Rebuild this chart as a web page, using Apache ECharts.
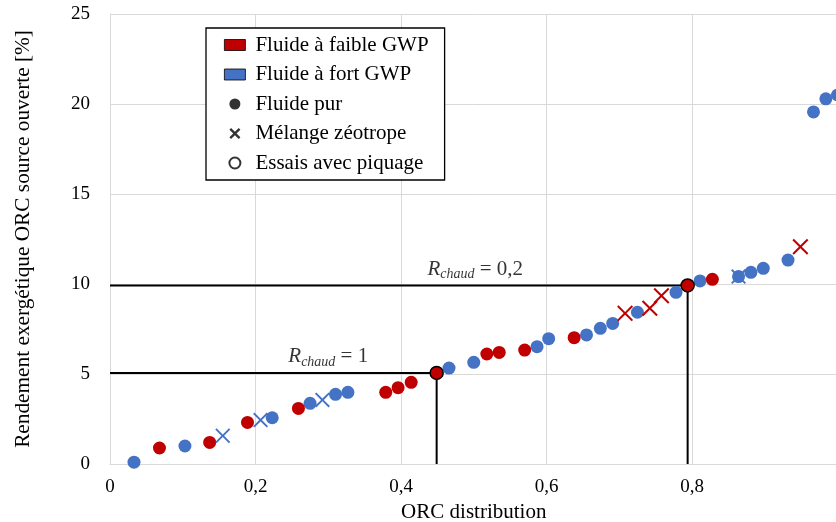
<!DOCTYPE html>
<html>
<head>
<meta charset="utf-8">
<script src="https://cdn.jsdelivr.net/npm/echarts@6/dist/echarts.min.js"></script>
<style>html,body{margin:0;padding:0;background:#fff;}#c{width:836px;height:522px;}</style>
</head>
<body>
<div id="c"></div>
<script>
// ---- Data (x = ORC distribution, y = rendement exergétique %) ----
const xTicks = [0, 0.2, 0.4, 0.6, 0.8, 1];
const yTicks = [0, 5, 10, 15, 20, 25];
const legendNames = ['Fluide à faible GWP', 'Fluide à fort GWP', 'Fluide pur', 'Mélange zéotrope', 'Essais avec piquage'];

const redPure = [[0.068,0.89],[0.137,1.20],[0.189,2.31],[0.259,3.09],[0.379,3.98],[0.396,4.24],[0.414,4.54],
  [0.518,6.11],[0.535,6.20],[0.570,6.33],[0.638,7.02],[0.828,10.26]];
const bluePure = [[0.033,0.10],[0.103,1.00],[0.223,2.57],[0.275,3.37],[0.310,3.87],[0.327,3.98],[0.466,5.33],
  [0.500,5.65],[0.587,6.52],[0.603,6.96],[0.655,7.17],[0.674,7.54],[0.691,7.81],[0.725,8.43],[0.778,9.54],
  [0.811,10.17],[0.864,10.41],[0.881,10.65],[0.898,10.87],[0.932,11.33],[0.967,19.56],[0.984,20.29],[1.000,20.50]];
const redZeo = [[0.708,8.37],[0.742,8.65],[0.758,9.35],[0.949,12.07]];
const blueZeo = [[0.155,1.57],[0.207,2.44],[0.292,3.56],[0.864,10.41]];
const refPoints = [[0.449,5.06],[0.794,9.92]];
const refLine1 = [[0,5.06],[0.449,5.06],[0.449,0]];
const refLine2 = [[0,9.92],[0.794,9.92],[0.794,0]];
const annotText = ['1', '0,2'];
const annotAt = [[0.300,5.06],[0.502,9.92]];

const RED = '#C00000', BLUE = '#4472C4';
const FONT = 'Liberation Serif';
const XPATH = 'path://M0,9L9,0L50,41L91,0L100,9L59,50L100,91L91,100L50,59L9,100L0,91L41,50Z';
const XPATH_BOLD = 'path://M0,15L15,0L50,35L85,0L100,15L65,50L100,85L85,100L50,65L15,100L0,85L35,50Z';

const chart = echarts.init(document.getElementById('c'), null, {renderer: 'canvas'});
const annotData = annotAt.map((p, i) => ({
  value: p,
  label: { formatter: '{i|R}{s|chaud}{n| = ' + annotText[i] + '}' }
}));

chart.setOption({
  animation: false,
  textStyle: { fontFamily: FONT },
  grid: { left: 110, top: 14, width: 727.5, height: 450, outerBoundsMode: 'none', containLabel: false },
  xAxis: {
    type: 'value', min: xTicks[0], max: xTicks[xTicks.length-1], interval: 0.2,
    name: 'ORC distribution', nameLocation: 'middle', nameGap: 37,
    nameTextStyle: { fontFamily: FONT, fontSize: 21, color: '#000' },
    axisLine: { show: true, lineStyle: { color: '#d9d9d9', width: 1 } },
    axisTick: { show: false },
    splitLine: { show: true, lineStyle: { color: '#d9d9d9', width: 1 } },
    axisLabel: { fontFamily: FONT, fontSize: 19, color: '#000', margin: 14, showMaxLabel: false,
      formatter: v => String(v).replace('.', ',') }
  },
  yAxis: {
    type: 'value', min: yTicks[0], max: yTicks[yTicks.length-1], interval: 5,
    name: 'Rendement exergétique ORC source ouverte [%]', nameLocation: 'middle', nameGap: 76,
    nameTextStyle: { fontFamily: FONT, fontSize: 21.3, color: '#000' },
    axisLine: { show: true, lineStyle: { color: '#d9d9d9', width: 1 } },
    axisTick: { show: false },
    splitLine: { show: true, lineStyle: { color: '#d9d9d9', width: 1 } },
    axisLabel: { fontFamily: FONT, fontSize: 19, color: '#000', margin: 20 }
  },
  legend: {
    orient: 'vertical', left: 206, top: 28,
    padding: [6, 16, 6, 18],
    backgroundColor: '#fff', borderColor: '#000', borderWidth: 1.3,
    itemWidth: 21, itemHeight: 11, itemGap: 7.5,
    selectedMode: false,
    textStyle: { fontFamily: FONT, fontSize: 21, color: '#000', lineHeight: 22, padding: [0,0,0,5] },
    data: [
      { name: legendNames[0], icon: 'rect', itemStyle: { color: RED, borderColor: '#000', borderWidth: 0.8 } },
      { name: legendNames[1], icon: 'rect', itemStyle: { color: BLUE, borderColor: '#000', borderWidth: 0.8 } },
      { name: legendNames[2], icon: 'circle', itemStyle: { color: '#000', borderWidth: 0 } },
      { name: legendNames[3], icon: XPATH_BOLD, itemStyle: { color: '#000', borderWidth: 0 } },
      { name: legendNames[4], icon: 'emptyCircle', itemStyle: { color: '#000', borderColor: '#000', borderWidth: 1.5 } }
    ]
  },
  series: [
    { type: 'line', data: refLine1, symbol: 'none', silent: true, lineStyle: { color: '#000', width: 2 }, z: 1 },
    { type: 'line', data: refLine2, symbol: 'none', silent: true, lineStyle: { color: '#000', width: 2 }, z: 1 },
    { name: legendNames[1], type: 'scatter', data: bluePure, symbol: 'circle', symbolSize: 13,
      itemStyle: { color: BLUE, opacity: 1 }, z: 2 },
    { name: legendNames[0], type: 'scatter', data: redPure, symbol: 'circle', symbolSize: 13,
      itemStyle: { color: RED, opacity: 1 }, z: 3 },
    { type: 'scatter', data: blueZeo, symbol: XPATH, symbolSize: 15, itemStyle: { color: BLUE, opacity: 1 }, z: 4 },
    { type: 'scatter', data: redZeo, symbol: XPATH, symbolSize: 16, itemStyle: { color: RED, opacity: 1 }, z: 4 },
    { type: 'scatter', data: refPoints, symbol: 'circle', symbolSize: 13,
      itemStyle: { color: RED, borderColor: '#000', borderWidth: 1.5, opacity: 1 }, z: 5 },
    { name: legendNames[2], type: 'scatter', data: [], symbol: 'circle', itemStyle: { color: '#000' } },
    { name: legendNames[3], type: 'scatter', data: [], symbol: XPATH_BOLD, itemStyle: { color: '#000' } },
    { name: legendNames[4], type: 'scatter', data: [], symbol: 'emptyCircle', itemStyle: { color: '#000' } },
    { type: 'scatter', data: annotData, symbolSize: 0, silent: true, z: 6,
      label: { show: true, position: 'top', distance: 4, color: '#000',
        rich: {
          i: { fontFamily: FONT, fontStyle: 'italic', fontSize: 21, lineHeight: 24, verticalAlign: 'middle', color: '#000' },
          s: { fontFamily: FONT, fontStyle: 'italic', fontSize: 14, lineHeight: 14, verticalAlign: 'bottom', color: '#000' },
          n: { fontFamily: FONT, fontSize: 21, lineHeight: 24, verticalAlign: 'middle', color: '#000' }
        } } }
  ]
});
</script>
</body>
</html>
